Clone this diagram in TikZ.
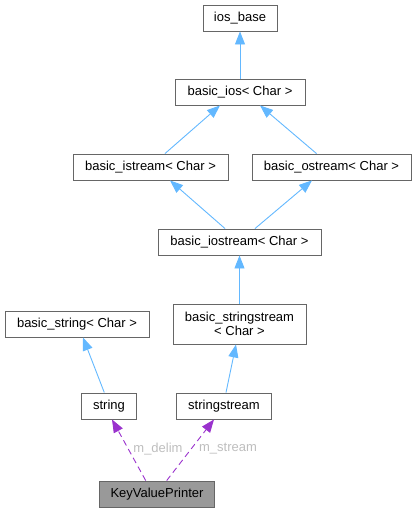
\documentclass[tikz,border=0pt]{standalone}
\usepackage{fontspec}
\setmainfont{Liberation Sans}
\usetikzlibrary{arrows.meta}
\definecolor{inhblue}{HTML}{63B8FF}
\definecolor{usepurple}{HTML}{9A32CD}
\definecolor{boxgray}{HTML}{666666}
\definecolor{labgray}{HTML}{BEBEBE}
\definecolor{kvpfill}{HTML}{999999}
\tikzset{
  cls/.style={draw=boxgray, line width=0.9pt, fill=white, inner sep=0pt, minimum height=26pt, align=center, font=\fontsize{13}{14.5}\selectfont},
  inh/.style={draw=inhblue, line width=0.9pt, -{Triangle[length=13pt,width=10pt]}},
  usedep/.style={draw=usepurple, line width=0.9pt, dash pattern=on 6pt off 4pt, -{Triangle[length=13pt,width=10pt]}},
  edgelab/.style={text=labgray, font=\fontsize{13}{14.5}\selectfont, inner sep=0pt}
}
\begin{document}
\begin{tikzpicture}[x=1pt,y=-1pt]
\useasboundingbox (0,0) rectangle (417,512);
\node[cls, minimum width=74pt] (iosbase) at (240,18) {ios\_base};
\node[cls, minimum width=130pt] (basicios) at (240,92) {basic\_ios< Char >};
\node[cls, minimum width=155pt] (istream) at (150.5,167) {basic\_istream< Char >};
\node[cls, minimum width=159pt] (ostream) at (331.5,167) {basic\_ostream< Char >};
\node[cls, minimum width=163pt] (iostream) at (239.5,242) {basic\_iostream< Char >};
\node[cls, minimum width=133pt, minimum height=40pt] (bsstream) at (239.5,324) {basic\_stringstream\\< Char >};
\node[cls, minimum width=144pt] (bstring) at (77,324) {basic\_string< Char >};
\node[cls, minimum width=55pt] (string) at (109,406) {string};
\node[cls, minimum width=95pt] (sstream) at (224,406) {stringstream};
\node[cls, minimum width=115pt, fill=kvpfill] (kvp) at (157,494) {KeyValuePrinter};

\draw[inh] (basicios.north) -- (iosbase.south);
\draw[inh] ([xshift=14.5pt]istream.north) -- ([xshift=-20pt]basicios.south);
\draw[inh] ([xshift=-15pt]ostream.north) -- ([xshift=20pt]basicios.south);
\draw[inh] ([xshift=-14.5pt]iostream.north) -- ([xshift=19.5pt]istream.south);
\draw[inh] ([xshift=15.5pt]iostream.north) -- ([xshift=-19.5pt]ostream.south);
\draw[inh] (bsstream.north) -- (iostream.south);
\draw[inh] ([xshift=-4.7pt]string.north) -- ([xshift=6pt]bstring.south);
\draw[inh] ([xshift=2pt]sstream.north) -- ([xshift=-3.5pt]bsstream.south);
\draw[usedep] ([xshift=-11.3pt]kvp.north) -- ([xshift=3pt]string.south);
\draw[usedep] ([xshift=9.7pt]kvp.north) -- ([xshift=-10pt]sstream.south);

\node[edgelab] (labdelim) at (158,449) {m\_delim};
\node[edgelab] (labstream) at (228,449) {m\_stream};
\end{tikzpicture}
\end{document}
